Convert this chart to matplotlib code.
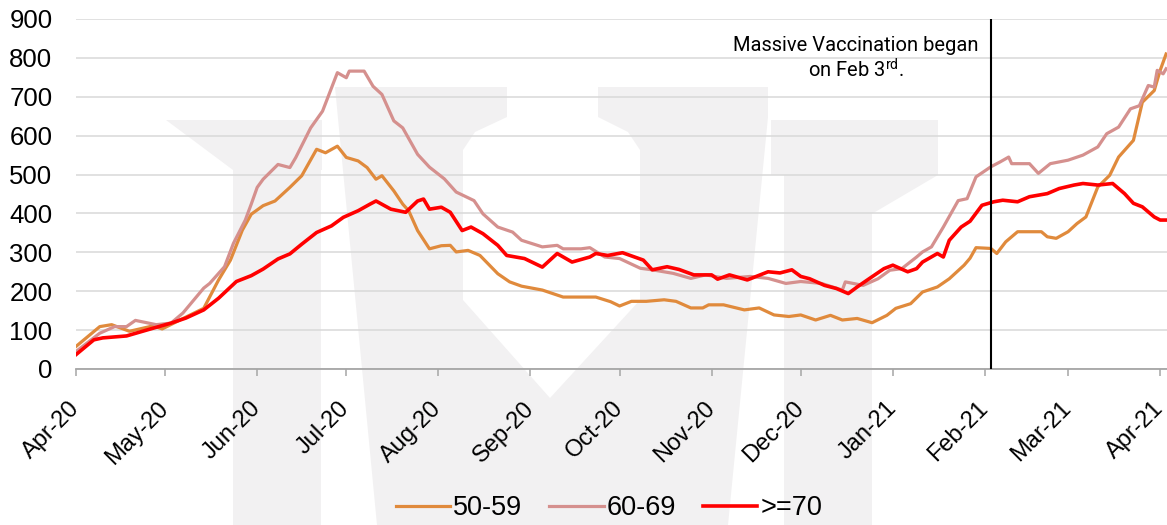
import numpy as np
import matplotlib
matplotlib.use("Agg")
import matplotlib.pyplot as plt
import matplotlib.dates as mdates
from matplotlib.patches import Polygon

plt.rcParams["font.family"] = ["Liberation Sans", "DejaVu Sans"]
plt.rcParams["mathtext.fontset"] = "custom"
plt.rcParams["mathtext.rm"] = "Roboto"

start = np.datetime64("2020-04-01")
vacc_day = np.datetime64("2021-02-03")

# day offsets from 2020-04-01 and values
orange_days = [0, 8, 12, 18, 26, 29, 35, 43, 48, 52, 56, 59, 63, 67, 72, 76, 81, 84, 88, 91,
               95, 98, 101, 103, 107, 110, 112, 115, 119, 123, 126, 128, 132, 136, 142, 146, 150, 157, 164, 171,
               175, 180, 183, 187, 192, 198, 202, 207, 211, 213, 218, 225, 230, 235, 240, 244, 249, 254, 258, 263,
               268, 273, 276, 281, 285, 290, 294, 299, 301, 303, 308, 310, 313, 317, 321, 325, 327, 330, 334, 337,
               340, 344, 348, 351, 356, 359, 363, 365, 367]
orange_vals = [58, 109, 114, 97, 111, 103, 126, 156, 229, 280, 357, 398, 420, 432, 467, 497, 565, 556, 573, 544,
               535, 518, 488, 497, 458, 424, 407, 356, 309, 317, 318, 301, 305, 292, 245, 224, 213, 203, 185, 185,
               185, 173, 162, 174, 174, 178, 174, 157, 157, 165, 165, 152, 157, 139, 135, 139, 126, 138, 126, 130,
               119, 138, 156, 168, 198, 211, 232, 267, 285, 312, 310, 297, 327, 353, 353, 353, 340, 336, 353, 374,
               391, 468, 498, 545, 588, 686, 716, 768, 810]

pink_days = [0, 8, 13, 17, 20, 27, 32, 36, 43, 45, 50, 53, 57, 59, 61, 63, 68, 72, 74, 79,
             83, 88, 91, 92, 97, 100, 103, 107, 110, 115, 119, 124, 128, 134, 137, 142, 147, 150, 157, 162,
             164, 170, 173, 178, 183, 190, 194, 201, 207, 212, 219, 227, 233, 239, 244, 251, 258, 259, 265, 270,
             274, 278, 283, 285, 288, 292, 297, 300, 303, 308, 311, 314, 315, 318, 321, 324, 328, 334, 339, 344,
             347, 351, 355, 358, 361, 363, 364, 366, 367]
pink_vals = [45, 92, 109, 109, 125, 114, 118, 144, 208, 220, 263, 323, 383, 424, 467, 488, 526, 518, 544, 620,
             663, 762, 749, 766, 766, 727, 706, 638, 620, 552, 519, 489, 455, 433, 399, 365, 352, 331, 314, 318,
             309, 309, 312, 288, 284, 259, 255, 246, 233, 242, 233, 238, 233, 220, 225, 220, 203, 224, 215, 232,
             254, 258, 288, 301, 314, 365, 433, 438, 494, 520, 532, 545, 528, 528, 528, 503, 528, 537, 550, 571,
             605, 622, 669, 677, 729, 725, 768, 759, 772]

red_days = [0, 6, 9, 17, 26, 32, 37, 43, 48, 54, 59, 63, 68, 72, 76, 81, 86, 90, 95, 99,
            101, 106, 111, 115, 117, 119, 123, 126, 130, 133, 137, 142, 145, 151, 157, 162, 167, 173, 175, 179,
            184, 191, 194, 199, 203, 208, 214, 216, 220, 226, 233, 237, 241, 244, 247, 252, 256, 260, 263, 267,
            272, 275, 280, 283, 285, 290, 292, 294, 298, 301, 305, 309, 312, 317, 321, 327, 331, 336, 339, 344,
            349, 353, 356, 359, 363, 365, 367]
red_vals = [37, 75, 80, 85, 105, 118, 131, 152, 182, 225, 240, 257, 283, 296, 321, 351, 368, 390, 407, 424,
            432, 411, 403, 432, 437, 411, 416, 403, 356, 365, 348, 318, 292, 284, 262, 297, 275, 288, 297, 292,
            299, 280, 255, 263, 256, 242, 242, 231, 242, 229, 250, 247, 255, 238, 232, 215, 207, 194, 211, 232,
            258, 267, 250, 258, 275, 297, 288, 331, 365, 380, 421, 430, 434, 430, 443, 451, 464, 473, 477, 473,
            477, 451, 426, 417, 391, 383, 383]

series = [("50-59", orange_days, orange_vals, "#E08A3C", 2.3),
          ("60-69", pink_days, pink_vals, "#D5908E", 2.3),
          (">=70", red_days, red_vals, "#FF0000", 2.6)]

# faint logo watermark behind the plot (pixel outlines, y down)
logo_shapes = [
    [(166, 120), (322, 120), (322, 170), (233, 170)],
    [(233, 120), (321, 120), (321, 525), (233, 525)],
    [(335, 87), (507, 87), (507, 117), (475, 132), (463, 150), (463, 300), (550, 398), (640, 300),
     (640, 150), (628, 132), (598, 117), (598, 87), (768, 87), (768, 117), (728, 525), (377, 525)],
    [(784, 120), (872, 120), (872, 525), (784, 525)],
    [(771, 120), (938, 120), (938, 175), (870, 215), (871, 175), (771, 175)],
]

fig = plt.figure(figsize=(11.67, 5.25), dpi=100)
bg = fig.add_axes([0, 0, 1, 1], zorder=0)
bg.set_xlim(0, 1167)
bg.set_ylim(525, 0)
bg.axis("off")
for pts in logo_shapes:
    bg.add_patch(Polygon(pts, closed=True, facecolor="#F2F1F2", edgecolor="none"))

ax = fig.add_axes([76 / 1167, 1 - 369 / 525, 1 - 76 / 1167, 350 / 525], zorder=1)
ax.patch.set_alpha(0)

handles = []
for name, days, vals, col, lw in series:
    dates = start + np.array(days).astype("timedelta64[D]")
    h, = ax.plot(dates, vals, color=col, lw=lw, label=name, solid_joinstyle="round")
    handles.append(h)

ax.axvline(vacc_day, color="black", lw=1.5, zorder=5)
ax.text(mdates.date2num(vacc_day) - 45.5, 798, "Massive Vaccination began\non Feb 3$^{\\mathrm{rd}}$.",
        ha="center", va="center", fontsize=14.5, family="Roboto", linespacing=1.15)

ax.set_ylim(0, 900)
ax.set_yticks(range(0, 901, 100))
x0 = mdates.date2num(start)
ax.set_xlim(x0, x0 + 367.3)
ax.xaxis.set_major_locator(mdates.MonthLocator())
ax.xaxis.set_major_formatter(mdates.DateFormatter("%b-%y"))

ax.grid(axis="y", color="#D9D9D9", lw=1.1)
ax.set_axisbelow(True)
for s in ["left", "top", "right"]:
    ax.spines[s].set_visible(False)
ax.spines["bottom"].set_color("#A6A6A6")
ax.spines["bottom"].set_linewidth(1.3)
ax.tick_params(axis="y", length=0, pad=17, labelsize=18.5)
ax.tick_params(axis="x", length=5, width=1.1, color="#A6A6A6", pad=21, labelsize=17)
for lab in ax.get_xticklabels():
    lab.set_rotation(45)
    lab.set_ha("right")
    lab.set_va("center")
    lab.set_rotation_mode("anchor")

fig.legend(handles=handles, loc="center", bbox_to_anchor=(0.522, 0.032), ncol=3, frameon=False,
           fontsize=19.5, handlelength=2.0, handletextpad=0.12, columnspacing=1.0)

fig.savefig("out.png", dpi=100)
